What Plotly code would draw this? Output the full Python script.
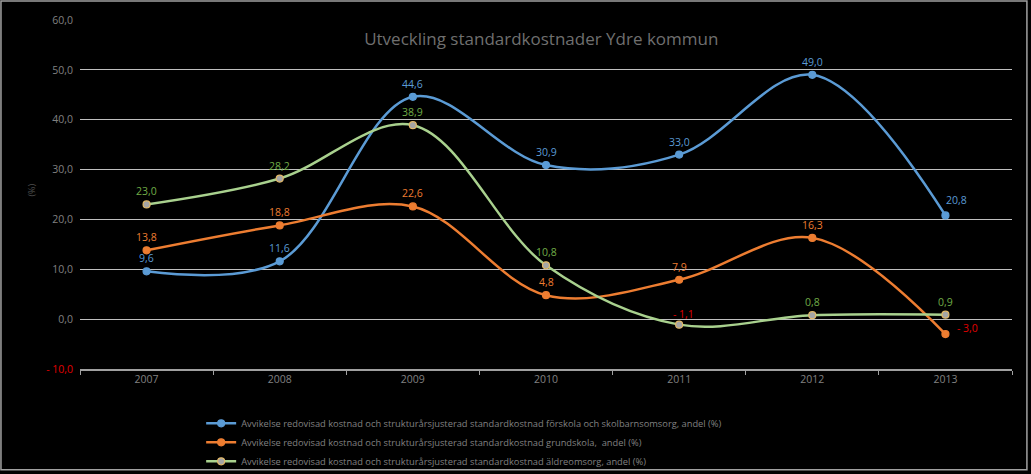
import plotly.graph_objects as go

years = ["2007", "2008", "2009", "2010", "2011", "2012", "2013"]
forskola = [9.6, 11.6, 44.6, 30.9, 33.0, 49.0, 20.8]
grundskola = [13.8, 18.8, 22.6, 4.8, 7.9, 16.3, -3.0]
aldreomsorg = [23.0, 28.2, 38.9, 10.8, -1.1, 0.8, 0.9]

names = [
    "Avvikelse redovisad kostnad och strukturårsjusterad standardkostnad förskola och skolbarnsomsorg, andel (%)",
    "Avvikelse redovisad kostnad och strukturårsjusterad standardkostnad grundskola,  andel (%)",
    "Avvikelse redovisad kostnad och strukturårsjusterad standardkostnad äldreomsorg, andel (%)",
]
yticks = [-10, 0, 10, 20, 30, 40, 50, 60]

FONT = "Open Sans"
GREY = "#808080"
RED = "#e00000"


def fmt(v):
    s = f"{abs(v):.1f}".replace(".", ",")
    return f"- {s}" if v < 0 else s


# label offsets (px) per point: default above the marker
above = [(0, 13)] * 7
series = [
    (forskola, names[0], "#5b9bd5", "#5b9bd5", "#5b9bd5", "#5b9bd5", above[:6] + [(11, 15)]),
    (grundskola, names[1], "#ed7d31", "#ed7d31", "#ed7d31", "#ed7d31", above[:6] + [(22, 6)]),
    (aldreomsorg, names[2], "#a9d18e", "#a5a5a5", "#e2b96a", "#70ad47", above[:4] + [(4, 11)] + above[:2]),
]

fig = go.Figure()
for vals, name, lc, mc, mlc, tc, offs in series:
    fig.add_trace(go.Scatter(
        x=years, y=vals, name=name, mode="lines+markers",
        line=dict(color=lc, width=2.5, shape="spline", smoothing=1.0),
        marker=dict(color=mc, size=7, line=dict(color=mlc, width=1.2)),
    ))
    # category axis: annotations are placed by category index
    for i, (v, (dx, dy)) in enumerate(zip(vals, offs)):
        fig.add_annotation(x=i, y=v, text=fmt(v), showarrow=False, xshift=dx, yshift=dy,
                           font=dict(family=FONT, size=10.5, color=RED if v < 0 else tc))

ticktext = [f"<span style='color:{RED}'>{fmt(v)}</span>" if v < 0 else fmt(v) for v in yticks]

fig.add_annotation(text="(%)", xref="paper", yref="paper", x=-0.061, y=0.513, showarrow=False,
                   textangle=-90, font=dict(family=FONT, size=9, color="#505050"))

fig.update_layout(
    width=1031, height=474,
    paper_bgcolor="black", plot_bgcolor="black",
    margin=dict(l=80, r=19, t=20, b=105, autoexpand=False),
    font=dict(family=FONT, color=GREY, size=10),
    title=dict(text="Utveckling standardkostnader Ydre kommun", x=0.525, xanchor="center",
               y=0.918, yanchor="middle", font=dict(family=FONT, size=17, color="#6f6f6f")),
    showlegend=True,
    legend=dict(x=0.13, y=-0.114, xanchor="left", yanchor="top", bgcolor="rgba(0,0,0,0)",
                font=dict(family=FONT, size=9.3, color=GREY), tracegroupgap=0, itemwidth=30),
    shapes=[dict(type="rect", xref="paper", yref="paper", x0=-0.0848, x1=1.016, y0=-0.289, y1=1.0544,
                 line=dict(color="#a0a0a0", width=1.5))],
)
fig.update_xaxes(
    type="category", showgrid=False, showline=True, linecolor="#a0a0a0", linewidth=1.5,
    ticks="outside", tickcolor="#a0a0a0", ticklen=4, tickson="boundaries",
    tickfont=dict(family=FONT, size=10.5, color=GREY), range=[-0.5, 6.5], automargin=False,
)
fig.update_yaxes(
    range=[-10, 60], tickvals=yticks, ticktext=ticktext, automargin=False,
    showgrid=True, gridcolor="#bfbfbf", gridwidth=1, zeroline=False, ticklabelstandoff=6,
    tickfont=dict(family=FONT, size=10.5, color=GREY),
)

fig.write_html("out.html", config={"displayModeBar": False},
               post_script="document.body.style.margin='0';")
